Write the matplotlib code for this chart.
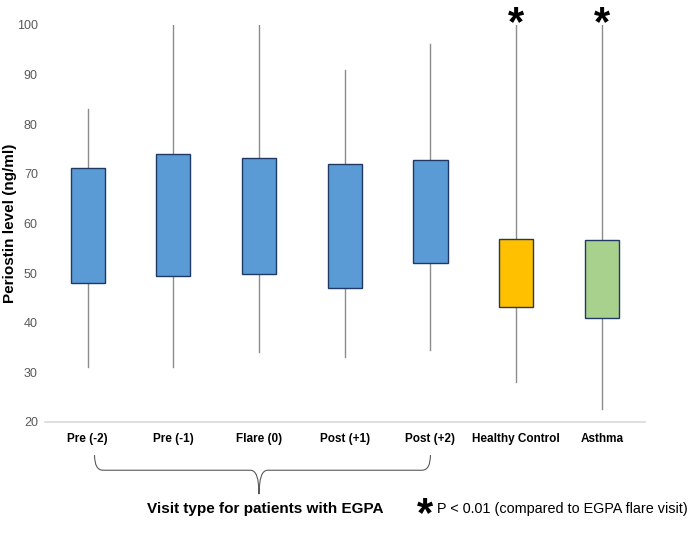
import numpy as np
import matplotlib.pyplot as plt
from matplotlib.path import Path
from matplotlib.patches import PathPatch
import matplotlib.transforms as mtransforms

plt.rcParams['font.family'] = ['Liberation Sans', 'DejaVu Sans']

groups = ['Pre (-2)', 'Pre (-1)', 'Flare (0)', 'Post (+1)', 'Post (+2)', 'Healthy Control', 'Asthma']
whislo = [31.0, 31.0, 34.0, 33.0, 34.5, 28.0, 22.7]
q1 = [48.0, 49.5, 49.9, 47.0, 52.0, 43.1, 40.9]
med = [57.5, 61.8, 59.8, 58.5, 57.3, 50.1, 47.9]
q3 = [71.1, 74.0, 73.2, 72.0, 72.8, 56.8, 56.6]
whishi = [83.0, 100.0, 100.0, 91.0, 96.2, 100.0, 100.0]
colors = ['#5B9BD5'] * 5 + ['#FFC000', '#A9D18E']
signif = [False, False, False, False, False, True, True]

fig = plt.figure(figsize=(7, 5.43), dpi=100)
ax = fig.add_axes([0.064, 0.223, 0.857, 0.731])

stats = []
for i in range(len(groups)):
    stats.append({'whislo': whislo[i], 'q1': q1[i], 'med': med[i], 'q3': q3[i],
                  'whishi': whishi[i], 'fliers': [], 'label': groups[i]})

bp = ax.bxp(stats, positions=range(len(groups)), widths=0.4, patch_artist=True,
            showcaps=False, showfliers=False,
            boxprops=dict(edgecolor='#1F3864', linewidth=1.0),
            medianprops=dict(color='#1F3864', linewidth=1.0),
            whiskerprops=dict(color='#8c8c8c', linewidth=1.0))
for b, c in zip(bp['boxes'], colors):
    b.set_facecolor(c)
    b.set_zorder(3)

# significance stars above the control groups
for i, s in enumerate(signif):
    if s:
        ax.text(i, 97.9, '*', ha='center', va='baseline', fontsize=30,
                fontweight='bold', clip_on=False)

ax.set_xlim(-0.5, len(groups) - 0.5)
ax.set_ylim(20, 100)
ax.set_yticks(range(20, 101, 10))
ax.tick_params(axis='y', length=0, colors='#595959', labelsize=9, pad=5)
ax.tick_params(axis='x', length=0, pad=8)
ax.set_xticks(range(len(groups)))
ax.set_xticklabels(groups, fontweight='bold', fontsize=8.5)
for sp in ['top', 'right', 'left']:
    ax.spines[sp].set_visible(False)
ax.spines['bottom'].set_color('#d9d9d9')
ax.spines['bottom'].set_linewidth(1.2)
fig.text(0.015, 0.588, 'Periostin level (ng/ml)', rotation=90, ha='center', va='center',
         fontweight='bold', fontsize=11)

# curly brace under the EGPA visits
tr = mtransforms.blended_transform_factory(ax.transData, fig.transFigure)
x0, x1, xm = 0.08, 4.0, 2.0
yt, yh, yb = 0.162, 0.134, 0.090
dx = 0.1
verts = [(x0, yt), (x0, yh), (x0 + dx, yh),
         (xm - dx, yh), (xm, yh), (xm, yb),
         (xm, yh), (xm + dx, yh),
         (x1 - dx, yh), (x1, yh), (x1, yt)]
codes = [Path.MOVETO, Path.CURVE3, Path.CURVE3,
         Path.LINETO, Path.CURVE3, Path.CURVE3,
         Path.CURVE3, Path.CURVE3,
         Path.LINETO, Path.CURVE3, Path.CURVE3]
brace = PathPatch(Path(verts, codes), transform=tr, fill=False,
                  edgecolor='#595959', linewidth=0.8, clip_on=False)
fig.add_artist(brace)

fig.text(0.379, 0.063, 'Visit type for patients with EGPA', ha='center', va='center',
         fontweight='bold', fontsize=11)
fig.text(0.607, 0.031, '*', ha='center', va='baseline', fontsize=30, fontweight='bold')
fig.text(0.624, 0.063, 'P < 0.01 (compared to EGPA flare visit)', ha='left', va='center',
         fontsize=10.4)

fig.savefig('out.png', dpi=100)
